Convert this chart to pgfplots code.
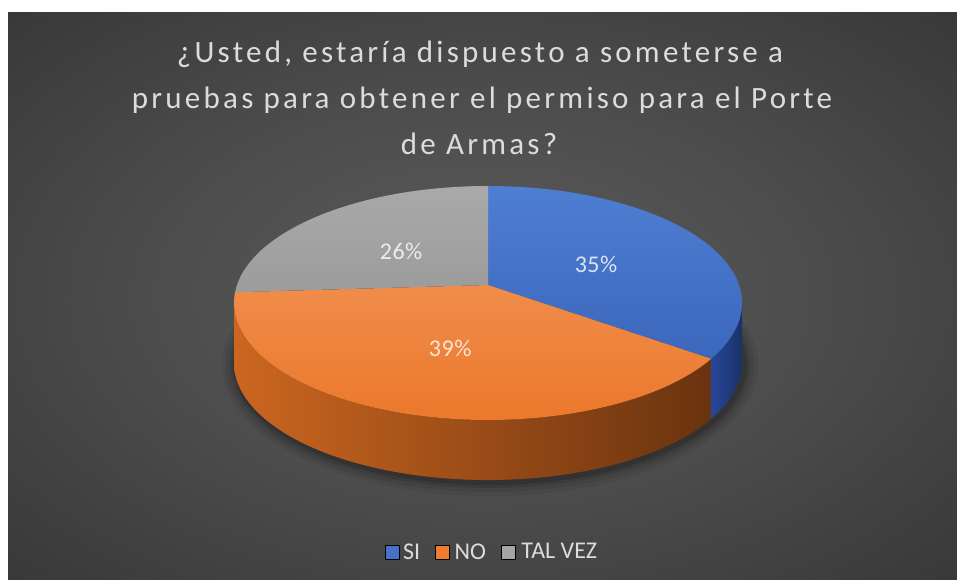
\documentclass[border=0pt]{standalone}
\usepackage{pgfplots}
\pgfplotsset{compat=1.18}
\usepackage{pgfplotstable}
\usepackage{fontspec}
\setmainfont{Carlito}
\newfontfamily\titlefont[LetterSpace=10.5]{Carlito}
\newfontfamily\labelfont[LetterSpace=2]{Carlito}

\definecolor{bgA}{HTML}{5C5C5C}
\definecolor{bgB}{HTML}{4C4C4C}
\definecolor{bgC}{HTML}{2E2E2E}
\definecolor{bgD}{HTML}{262626}
\definecolor{txt}{HTML}{DCDCDC}
\definecolor{siblue}{HTML}{4472C4}
\definecolor{sitop}{HTML}{4E7ED2}
\definecolor{sibot}{HTML}{3B67BC}
\definecolor{noorange}{HTML}{ED7D31}
\definecolor{notop}{HTML}{F08C4A}
\definecolor{nobot}{HTML}{EB7628}
\definecolor{tvgray}{HTML}{A5A5A5}
\definecolor{tvtop}{HTML}{A9A9A9}
\definecolor{tvbot}{HTML}{9C9C9C}
\definecolor{noside1}{HTML}{CC6620}
\definecolor{noside2}{HTML}{9A4A14}
\definecolor{noside3}{HTML}{6A330F}
\definecolor{siside1}{HTML}{27489A}
\definecolor{siside2}{HTML}{1A3166}

\pgfdeclareradialshading{bgshade}{\pgfpoint{0bp}{0bp}}{color(0bp)=(bgA); color(18bp)=(bgB); color(45bp)=(bgC); color(72bp)=(bgD)}

\pgfplotstableread[col sep=comma]{
label,value
SI,35
NO,39
TAL VEZ,26
}\piedata
\pgfplotstablegetelem{0}{value}\of\piedata\edef\vA{\pgfplotsretval}
\pgfplotstablegetelem{1}{value}\of\piedata\edef\vB{\pgfplotsretval}
\pgfplotstablegetelem{2}{value}\of\piedata\edef\vC{\pgfplotsretval}
% perspective model of the 3D pie (pixel units, y up)
\def\pk{0.154}\def\pa{251}\def\pb{114.2}
\def\cx{488}\def\cy{295}\def\ex{488}\def\ey{277}\def\rx{254}\def\ry{117}\def\th{60}
\newcommand\ellt[2]{%
 \pgfmathsetmacro\tmpw{1+\pk*sin(#1)}%
 \pgfmathsetmacro\tmpu{\pa*cos(#1)/\tmpw}%
 \pgfmathsetmacro\tmpv{\pb*sin(#1)/\tmpw}%
 \pgfmathsetmacro#2{atan2((\tmpv+\cy-\ey)/\ry,\tmpu/\rx)}}
\newcommand\labpos[3]{%
 \pgfmathsetmacro\tmpw{1+0.5*\pk*sin(#1)}%
 \pgfmathsetmacro#2{\cx+0.5*\pa*cos(#1)/\tmpw}%
 \pgfmathsetmacro#3{\cy+0.5*\pb*sin(#1)/\tmpw-4}}
\pgfmathsetmacro\thA{90}
\pgfmathsetmacro\thB{\thA-3.6*\vA}
\pgfmathsetmacro\thC{\thB-3.6*\vB}
\pgfmathsetmacro\thD{\thC-3.6*\vC}
\ellt{\thA}{\tA}
\ellt{\thB}{\tB}\pgfmathsetmacro\tB{ifthenelse(\tB>\tA,\tB-360,\tB)}
\ellt{\thC}{\tC}\pgfmathsetmacro\tC{ifthenelse(\tC>\tB,\tC-360,\tC)}
\ellt{\thD}{\tD}\pgfmathsetmacro\tD{ifthenelse(\tD>\tC,\tD-360,\tD)}
\pgfmathsetmacro\xA{\ex+\rx*cos(\tA)}\pgfmathsetmacro\yA{\ey+\ry*sin(\tA)}
\pgfmathsetmacro\xB{\ex+\rx*cos(\tB)}\pgfmathsetmacro\yB{\ey+\ry*sin(\tB)}
\pgfmathsetmacro\xC{\ex+\rx*cos(\tC)}\pgfmathsetmacro\yC{\ey+\ry*sin(\tC)}
% visible side ranges (front half: -180..0)
\pgfmathsetmacro\sNs{max(\tC,-180)}\pgfmathsetmacro\sNe{min(\tB,0)}
\pgfmathsetmacro\sSs{max(\tB,-180)}\pgfmathsetmacro\sSe{min(\tA,0)}
\pgfmathsetmacro\xNs{\ex+\rx*cos(\sNs)}\pgfmathsetmacro\yNs{\ey+\ry*sin(\sNs)}
\pgfmathsetmacro\xSs{\ex+\rx*cos(\sSs)}\pgfmathsetmacro\ySs{\ey+\ry*sin(\sSs)}
\labpos{(\thA+\thB)/2}{\lxA}{\lyA}
\labpos{(\thB+\thC)/2}{\lxB}{\lyB}
\labpos{(\thC+\thD)/2}{\lxC}{\lyC}
\pgfmathsetmacro\shy{\ey-\th-2}

\begin{document}%
\begin{tikzpicture}
\begin{axis}[
  x=1pt, y=1pt, xmin=0, xmax=957, ymin=0, ymax=580,
  anchor=south west, at={(0,0)},
  hide axis, clip=false,
  legend columns=-1,
  legend image code/.code={\fill[#1] (0pt,-7pt) rectangle (14pt,7pt);},
  legend style={at={(0.5141,0.0483)}, anchor=center, draw=none, fill=none,
    text=txt, font=\fontsize{24}{27}\selectfont,
    nodes={inner sep=1.5pt},
    /tikz/every even column/.append style={column sep=13pt}},
]
% background
\fill[white] (0,0) rectangle (957,580);
\shade[shading=bgshade] (8,0) rectangle (957,567);
% shadow
\fill[black, opacity=0.06] (490,\shy) ellipse [x radius=268pt, y radius=131pt];
\fill[black, opacity=0.08] (490,\shy) ellipse [x radius=264pt, y radius=127pt];
\fill[black, opacity=0.10] (490,\shy) ellipse [x radius=260pt, y radius=123pt];
\fill[black, opacity=0.14] (490,\shy) ellipse [x radius=257pt, y radius=120pt];
% sides
\path[left color=noside1, middle color=noside2, right color=noside3]
  (\xNs,\yNs) arc[start angle=\sNs, end angle=\sNe, x radius=\rx pt, y radius=\ry pt]
  -- ++(0pt,-\th pt) arc[start angle=\sNe, end angle=\sNs, x radius=\rx pt, y radius=\ry pt] -- cycle;
\path[left color=siside1, right color=siside2]
  (\xSs,\ySs) arc[start angle=\sSs, end angle=\sSe, x radius=\rx pt, y radius=\ry pt]
  -- ++(0pt,-\th pt) arc[start angle=\sSe, end angle=\sSs, x radius=\rx pt, y radius=\ry pt] -- cycle;
% top faces
\path[top color=sitop, bottom color=sibot]
  (\cx,\cy) -- (\xA,\yA) arc[start angle=\tA, end angle=\tB, x radius=\rx pt, y radius=\ry pt] -- cycle;
\path[top color=notop, bottom color=nobot]
  (\cx,\cy) -- (\xB,\yB) arc[start angle=\tB, end angle=\tC, x radius=\rx pt, y radius=\ry pt] -- cycle;
\path[top color=tvtop, bottom color=tvbot]
  (\cx,\cy) -- (\xC,\yC) arc[start angle=\tC, end angle=\tD, x radius=\rx pt, y radius=\ry pt] -- cycle;
% data labels
\node[text=white, text opacity=0.8, font=\labelfont\fontsize{24}{26}\selectfont] at (\lxA,\lyA) {\vA\%};
\node[text=white, text opacity=0.8, font=\labelfont\fontsize{24}{26}\selectfont] at (\lxB,\lyB) {\vB\%};
\node[text=white, text opacity=0.8, font=\labelfont\fontsize{24}{26}\selectfont] at (\lxC,\lyC) {\vC\%};
% title
\node[anchor=base, text=txt, font=\titlefont\fontsize{31}{35}\selectfont] at (480,517) {¿Usted, estaría dispuesto a someterse a};
\node[anchor=base, text=txt, font=\titlefont\fontsize{31}{35}\selectfont] at (482,471) {pruebas para obtener el permiso para el Porte};
\node[anchor=base, text=txt, font=\titlefont\fontsize{31}{35}\selectfont] at (479,425) {de Armas?};
% legend
\addlegendimage{fill=siblue}\addlegendentry{\hspace{2pt}SI}
\addlegendimage{fill=noorange}\addlegendentry{\hspace{4pt}NO}
\addlegendimage{fill=tvgray}\addlegendentry{\hspace{5pt}TAL VEZ}
\end{axis}
\pgfresetboundingbox
\useasboundingbox (0,0) rectangle (957pt,580pt);
\end{tikzpicture}%
\end{document}
